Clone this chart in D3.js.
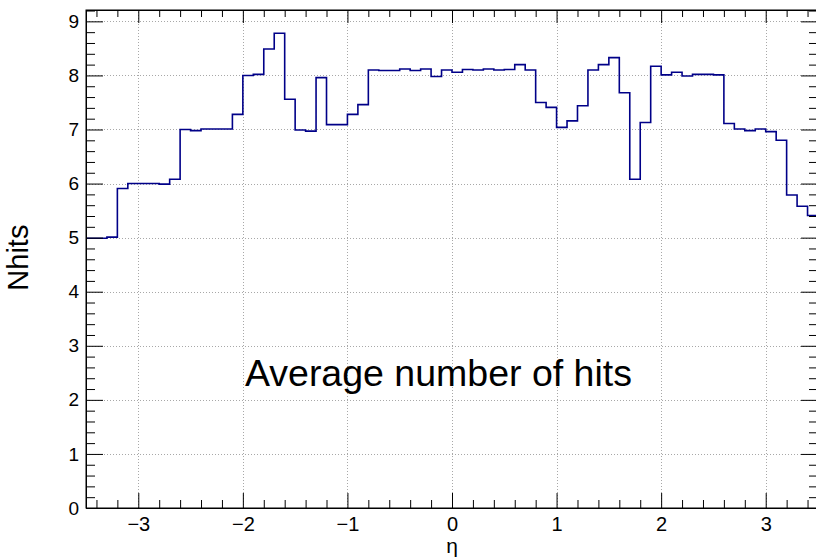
<!DOCTYPE html>
<html>
<head>
<meta charset="utf-8">
<script src="https://cdn.jsdelivr.net/npm/d3@7"></script>
<style>
  body { margin: 0; background: #fff; }
  svg { display: block; font-family: "Liberation Sans", Arial, sans-serif; }
</style>
</head>
<body>
<svg id="chart" width="816" height="559"></svg>
<script>
// binning of the eta histogram
const etaMin = -3.5
const etaMax = 3.5
const binWidth = 0.1

// average number of hits per eta bin (70 bins)
const nhits = [
  4.99, 4.99, 5.01, 5.91, 6.00, 6.00, 6.00, 5.99, 6.08, 7.00,
  6.98, 7.01, 7.01, 7.01, 7.28, 8.00, 8.02, 8.49, 8.78, 7.56,
  6.99, 6.97, 7.96, 7.09, 7.09, 7.28, 7.46, 8.10, 8.09, 8.09,
  8.12, 8.09, 8.12, 7.98, 8.10, 8.06, 8.11, 8.10, 8.12, 8.10,
  8.11, 8.20, 8.10, 7.50, 7.41, 7.04, 7.16, 7.44, 8.10, 8.20,
  8.33, 7.68, 6.08, 7.13, 8.17, 8.01, 8.06, 7.99, 8.02, 8.02,
  8.01, 7.11, 7.01, 6.98, 7.01, 6.96, 6.80, 5.79, 5.58, 5.41
]

const xMajor = [-3, -2, -1, 0, 1, 2, 3]
const xMinor = [-3.4, -3.2, -2.8, -2.6, -2.4, -2.2, -1.8, -1.6, -1.4, -1.2, -0.8, -0.6, -0.4, -0.2,
                0.2, 0.4, 0.6, 0.8, 1.2, 1.4, 1.6, 1.8, 2.2, 2.4, 2.6, 2.8, 3.2, 3.4]
const yMajor = [0, 1, 2, 3, 4, 5, 6, 7, 8, 9]
const yMax = 9.21

const title = "Average number of hits"
const xTitle = "η"
const yTitle = "Nhits"

const svg = d3.select("#chart")
const margin = { left: 86, top: 10, right: -2, bottom: 51 }
const width = 816, height = 559

const x = d3.scaleLinear().domain([etaMin, etaMax]).range([margin.left, width - margin.right])
const y = d3.scaleLinear().domain([0, yMax]).range([height - margin.bottom, margin.top])

// y minor ticks every 0.2
let yMinor = []
for (let v = 0.2; v < yMax; v += 0.2) {
    if (Math.abs(v - Math.round(v)) > 0.01) yMinor.push(+v.toFixed(1))
}

// grid
const grid = svg.append("g").attr("stroke", "#a8a8a8").attr("stroke-dasharray", "1,2").attr("stroke-width", 1)
grid.selectAll(".gx").data(xMajor).enter().append("line")
    .attr("x1", d => Math.round(x(d)) + 0.5).attr("x2", d => Math.round(x(d)) + 0.5)
    .attr("y1", y(0)).attr("y2", y(yMax))
grid.selectAll(".gy").data(yMajor).enter().append("line")
    .attr("y1", d => Math.round(y(d)) + 0.5).attr("y2", d => Math.round(y(d)) + 0.5)
    .attr("x1", x(etaMin)).attr("x2", x(etaMax))

// histogram
let pts = nhits.map((v, i) => [etaMin + i * binWidth, v])
pts.push([etaMax, nhits[nhits.length - 1]])
const line = d3.line().x(d => x(d[0])).y(d => y(d[1])).curve(d3.curveStepAfter)
svg.append("path").datum(pts)
    .attr("d", line)
    .attr("fill", "none")
    .attr("stroke", "#000088")
    .attr("stroke-width", 1.6)

// axes (ROOT style, ticks inside)
const fmt = d3.format("")
const axisStyle = size => g => {
    g.selectAll("path").attr("stroke", "#000")
    g.selectAll("line").attr("stroke", "#000")
    g.selectAll("text").attr("fill", "#000").attr("font-size", size)
        .attr("font-family", "'Liberation Sans', Arial, sans-serif")
}

svg.append("g").attr("transform", `translate(0,${y(0)})`)
    .call(d3.axisBottom(x).tickValues(xMajor).tickSizeInner(-15).tickSizeOuter(0).tickPadding(9).tickFormat(fmt))
    .call(axisStyle(20))
svg.append("g").attr("transform", `translate(0,${y(0)})`)
    .call(d3.axisBottom(x).tickValues(xMinor).tickSize(-8).tickFormat(""))
    .call(axisStyle(18))
svg.append("g").attr("transform", `translate(0,${y(yMax)})`)
    .call(d3.axisTop(x).tickValues(xMajor).tickSizeInner(-13).tickSizeOuter(0).tickFormat(""))
    .call(axisStyle(18))
svg.append("g").attr("transform", `translate(0,${y(yMax)})`)
    .call(d3.axisTop(x).tickValues(xMinor).tickSize(-7).tickFormat(""))
    .call(axisStyle(18))

svg.append("g").attr("transform", `translate(${x(etaMin)},0)`)
    .call(d3.axisLeft(y).tickValues(yMajor).tickSizeInner(-17).tickSizeOuter(0).tickPadding(7).tickFormat(fmt))
    .call(axisStyle(19))
svg.append("g").attr("transform", `translate(${x(etaMin)},0)`)
    .call(d3.axisLeft(y).tickValues(yMinor).tickSize(-9).tickFormat(""))
    .call(axisStyle(18))
svg.append("g").attr("transform", `translate(${x(etaMax)},0)`)
    .call(d3.axisRight(y).tickValues(yMajor).tickSizeInner(-17).tickSizeOuter(0).tickFormat(""))
    .call(axisStyle(18))
svg.append("g").attr("transform", `translate(${x(etaMax)},0)`)
    .call(d3.axisRight(y).tickValues(yMinor).tickSize(-9).tickFormat(""))
    .call(axisStyle(18))

// frame
svg.append("rect")
    .attr("x", x(etaMin)).attr("y", y(yMax))
    .attr("width", x(etaMax) - x(etaMin)).attr("height", y(0) - y(yMax))
    .attr("fill", "none").attr("stroke", "#000").attr("stroke-width", 1)

// texts
svg.append("text")
    .attr("x", x(-1.98)).attr("y", y(2.26))
    .attr("font-size", 37.5)
    .attr("fill", "#000")
    .text(title)

svg.append("text")
    .attr("x", x(0)).attr("y", 553)
    .attr("text-anchor", "middle")
    .attr("font-size", 21)
    .attr("fill", "#000")
    .text(xTitle)

svg.append("text")
    .attr("transform", `translate(28,${y(4.63)}) rotate(-90)`)
    .attr("text-anchor", "middle")
    .attr("font-size", 29)
    .attr("fill", "#000")
    .text(yTitle)
</script>
</body>
</html>
